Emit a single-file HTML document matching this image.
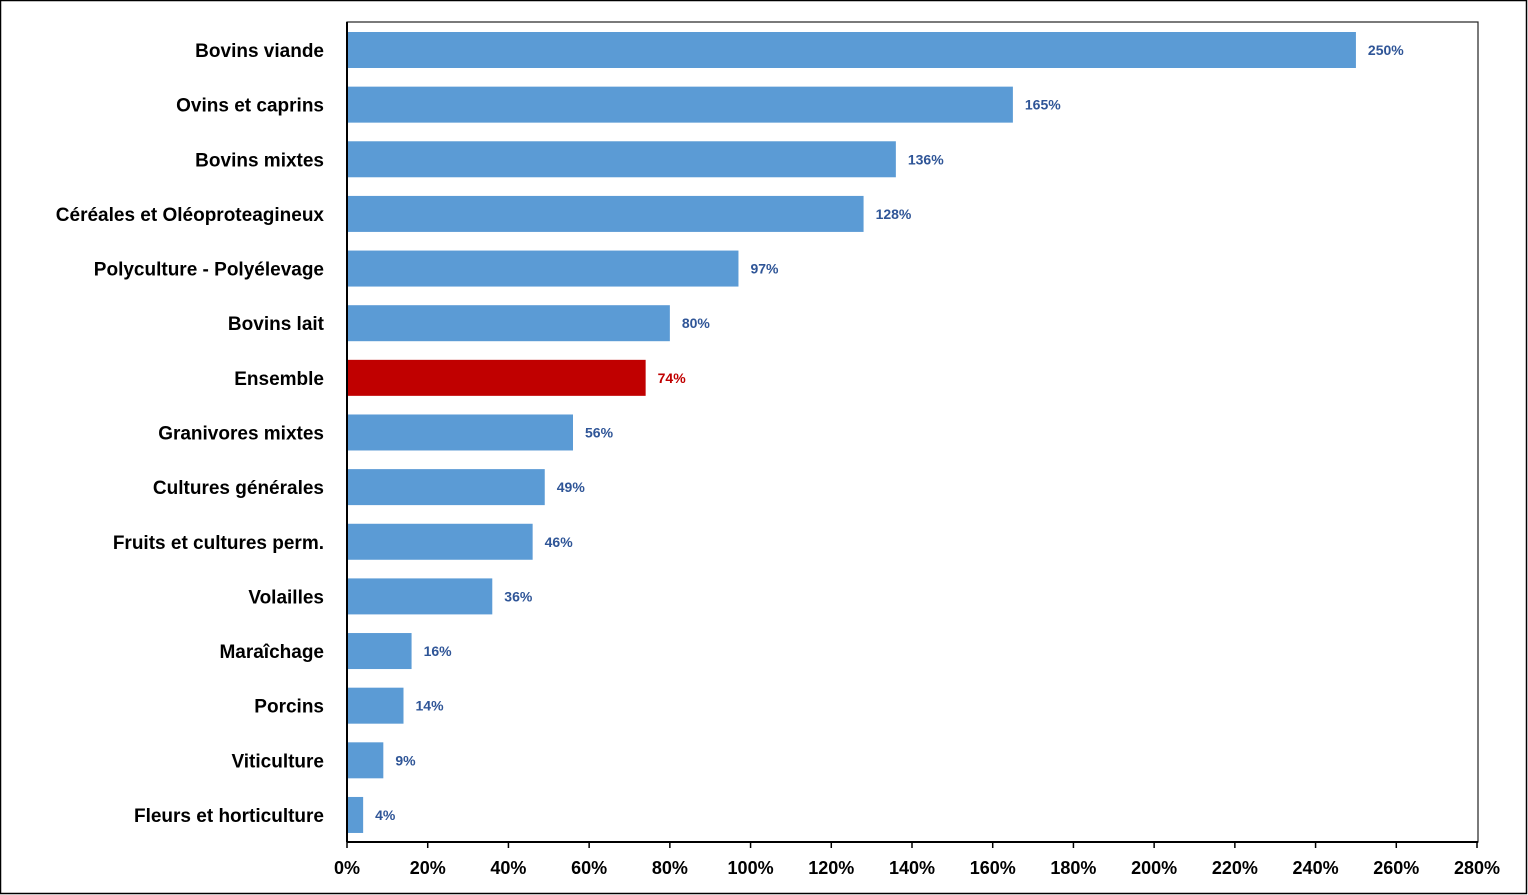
<!DOCTYPE html>
<html><head><meta charset="utf-8"><style>
html,body{margin:0;padding:0;background:#fff;}
svg{display:block;font-family:"Liberation Sans","DejaVu Sans",sans-serif;}
</style></head><body>
<svg id="chart" width="1528" height="895" xmlns="http://www.w3.org/2000/svg">
<rect x="0.5" y="0.5" width="1526" height="893" fill="#fff" stroke="#000" stroke-width="1.5"/>
<rect x="347" y="22" width="1131" height="820" fill="none" stroke="#222" stroke-width="1.2"/>
<g id="bars"></g><g id="axis"></g>
</svg>
<script>
const categories=["Bovins viande","Ovins et caprins","Bovins mixtes","Céréales et Oléoproteagineux","Polyculture - Polyélevage","Bovins lait","Ensemble","Granivores mixtes","Cultures générales","Fruits et cultures perm.","Volailles","Maraîchage","Porcins","Viticulture","Fleurs et horticulture"];
const values=[250,165,136,128,97,80,74,56,49,46,36,16,14,9,4];
const ticks=[0,20,40,60,80,100,120,140,160,180,200,220,240,260,280];
const NS="http://www.w3.org/2000/svg";
const x0=347,x1=1477,xmax=280,yFirst=50,step=54.64,bh=36,yBottom=842;
const xs=v=>x0+v/xmax*(x1-x0);
const ys=i=>yFirst+i*step;
const bars=document.getElementById('bars'),axis=document.getElementById('axis');
function mk(t,a,p){const e=document.createElementNS(NS,t);for(const k in a)e.setAttribute(k,a[k]);p.appendChild(e);return e;}
categories.forEach((c,i)=>{
  const hl=c==="Ensemble";
  const r=mk('rect',{x:x0,y:ys(i)-bh/2,width:xs(values[i])-x0,height:bh,fill:hl?'#C00000':'#5B9BD5'},bars);
  
  
  const v=mk('text',{x:xs(values[i])+12,y:ys(i)+5,'font-size':'14','font-weight':'bold',fill:hl?'#C00000':'#2F5597'},bars);
  v.textContent=values[i]+'%';
  
  
  const l=mk('text',{x:324,y:ys(i)+7,'font-size':'19','font-weight':'bold','text-anchor':'end',fill:'#000'},axis);
  l.textContent=c;
  
  
});
const ax=mk('line',{x1:x0,y1:22,x2:x0,y2:yBottom,stroke:'#000','stroke-width':2},axis);


const bx=mk('line',{x1:x0,y1:yBottom,x2:x1+1,y2:yBottom,stroke:'#000','stroke-width':2},axis);


ticks.forEach(t=>{
  const tk=mk('line',{x1:xs(t),y1:yBottom,x2:xs(t),y2:yBottom+6,stroke:'#000','stroke-width':1.5},axis);
  
  
  const tl=mk('text',{x:xs(t),y:874,'font-size':'18','font-weight':'bold','text-anchor':'middle',fill:'#000'},axis);
  tl.textContent=t+'%';
  
  
});
</script>
</body></html>
